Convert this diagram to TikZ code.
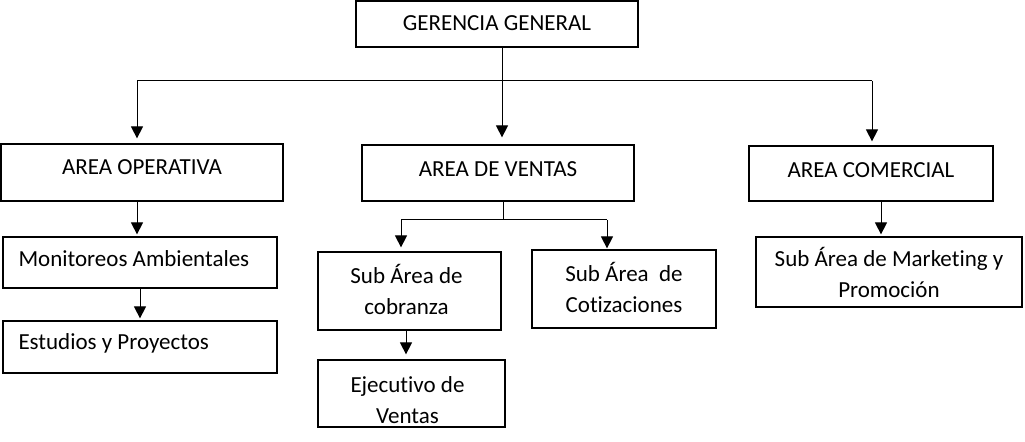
\documentclass[tikz,border=0pt]{standalone}
\usepackage{fontspec}
\setmainfont{Carlito}[Ligatures=NoCommon]
\usetikzlibrary{arrows.meta}
\newcommand\bt[2]{\raisebox{#1}[0pt][0pt]{\begin{tabular}[t]{@{}c@{}}#2\end{tabular}}}
\newcommand\btl[3]{\raisebox{#1}[0pt][0pt]{\begin{tabular}[t]{@{}p{#2}@{}}#3\end{tabular}}}
\begin{document}
\begin{tikzpicture}[x=0.5pt,y=-0.5pt,
  box/.style={draw, line width=0.6pt, inner sep=0pt, font=\fontsize{11.5}{15.25}\selectfont},
  ln/.style={line width=0.5pt},
  arr/.style={ln, -{Triangle[length=6pt,width=6pt]}}]
\useasboundingbox[fill=white] (0,0) rectangle (1025,442);
% boxes
\node[box, minimum width=141pt, minimum height=23pt] (gg) at (497,24) {\bt{-3.5pt}{GERENCIA GENERAL}};
\node[box, minimum width=141pt, minimum height=28.5pt] (ao) at (142,172.5) {\bt{-1.25pt}{AREA OPERATIVA}};
\node[box, minimum width=136pt, minimum height=28pt] (av) at (498,173) {\bt{-1.85pt}{AREA DE VENTAS}};
\node[box, minimum width=122pt, minimum height=27.5pt] (ac) at (871,173.5) {\bt{-2.25pt}{AREA COMERCIAL}};
\node[box, minimum width=137pt, minimum height=25.5pt] (mon) at (140,262.5) {\btl{-2pt}{121.5pt}{Monitoreos Ambientales}};
\node[box, minimum width=137pt, minimum height=26pt] (est) at (140,347) {\btl{-1.5pt}{121.5pt}{Estudios y Proyectos}};
\node[box, minimum width=91.5pt, minimum height=39pt] (cob) at (409.5,291) {\hspace*{-3pt}\bt{3.5pt}{Sub Área de\\cobranza}};
\node[box, minimum width=93.5pt, minimum height=33.5pt] (eje) at (411.5,393.5) {\hspace*{-4pt}\bt{0.25pt}{Ejecutivo de\\Ventas}};
\node[box, minimum width=92pt, minimum height=39pt] (cot) at (624,289) {\bt{3.65pt}{Sub Área~~de\\Cotizaciones}};
\node[box, minimum width=133pt, minimum height=35pt] (mkt) at (889,272) {\bt{2.5pt}{Sub Área de Marketing y\\Promoción}};
% coordinates
\coordinate (busL) at (137,81);
\coordinate (busR) at (872,81);
\coordinate (ggout) at ([xshift=2.5pt]gg.south);
\coordinate (avb) at (503,220);
\coordinate (b2L) at (401,220);
\coordinate (b2R) at (607,220);
\coordinate (cobout) at ([xshift=-1.75pt]cob.south);
\coordinate (acout) at ([xshift=5pt]ac.south);
% connectors
\draw[ln] (busL) -- (busR);
\draw[arr, shorten >=3.5pt] (ggout) -- (ggout |- av.north);
\draw[arr, shorten >=2.5pt] (busL) -- (busL |- ao.north);
\draw[arr, shorten >=2pt] (busR) -- (busR |- ac.north);
\draw[arr, shorten >=1pt] (ao.south -| busL) -- (busL |- mon.north);
\draw[arr, shorten >=1pt] (mon.south) -- (est.north);
\draw[ln] (avb |- av.south) -- (avb);
\draw[ln] (b2L) -- (b2R);
\draw[arr, shorten >=2pt] (b2L) -- (b2L |- cob.north);
\draw[arr, shorten >=0.5pt] (b2R) -- (b2R |- cot.north);
\draw[arr, shorten >=2.5pt] (cobout) -- (cobout |- eje.north);
\draw[arr, shorten >=1pt] (acout) -- (acout |- mkt.north);
\end{tikzpicture}
\end{document}
